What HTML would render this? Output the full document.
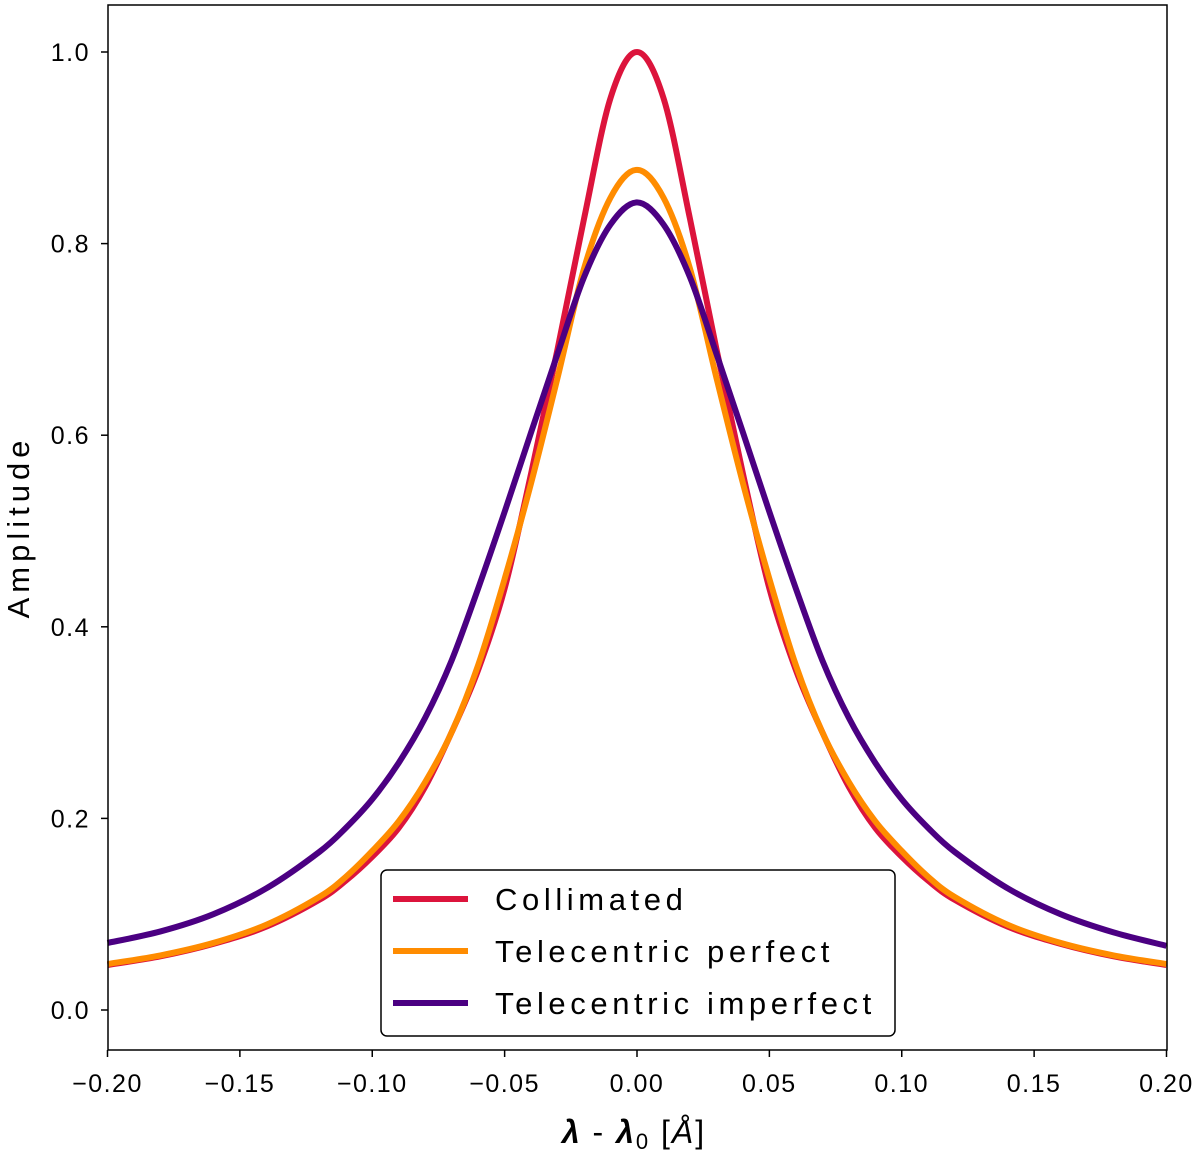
<!DOCTYPE html>
<html><head><meta charset="utf-8"><style>
body{margin:0;background:#fff}
svg{display:block;font-family:"Liberation Sans",DejaVu Sans,sans-serif}
</style></head><body>
<svg id="chart" width="1200" height="1151">
<rect x="108" y="5" width="1059" height="1045" fill="#fff"/>
<g id="curves"></g>
<rect x="108" y="5" width="1059" height="1045" fill="none" stroke="#000" stroke-width="1.5"/>
<g id="xt"></g>
<g id="yt"></g>
<text x="634" y="1143" text-anchor="middle" font-size="32" letter-spacing="2"><tspan font-style="italic" font-weight="bold">λ</tspan> - <tspan font-style="italic" font-weight="bold">λ</tspan><tspan font-size="22" dy="6">0</tspan><tspan dy="-6"> [</tspan><tspan font-style="italic">Å</tspan>]</text>
<text transform="translate(29,527) rotate(-90)" text-anchor="middle" font-size="31" letter-spacing="5">Amplitude</text>
<g>
<rect x="381" y="870" width="514" height="166" rx="6" fill="#fff" stroke="#000" stroke-width="1.5"/>
<g><line x1="393" x2="468" y1="899" y2="899" stroke="#dc143c" stroke-width="6"/><text x="495" y="910" font-size="31" letter-spacing="4.6">Collimated</text></g>
<g><line x1="393" x2="468" y1="951" y2="951" stroke="#ff8c00" stroke-width="6"/><text x="495" y="962" font-size="31" letter-spacing="4.6">Telecentric perfect</text></g>
<g><line x1="393" x2="468" y1="1003" y2="1003" stroke="#4b0082" stroke-width="6"/><text x="495" y="1014" font-size="31" letter-spacing="4.6">Telecentric imperfect</text></g>
</g>
</svg>
<script>
const xValues=[-0.2,-0.18,-0.16,-0.14,-0.12,-0.11,-0.1,-0.09,-0.08,-0.07,-0.06,-0.05,-0.04,-0.03,-0.02,-0.01,0,0.01,0.02,0.03,0.04,0.05,0.06,0.07,0.08,0.09,0.1,0.11,0.12,0.14,0.16,0.18,0.2];
const collimated=[0.047,0.056,0.069,0.087,0.115,0.135,0.16,0.19,0.233,0.29,0.355,0.44,0.56,0.69,0.826,0.952,1.0,0.952,0.826,0.69,0.56,0.44,0.355,0.29,0.233,0.19,0.16,0.135,0.115,0.087,0.069,0.056,0.047];
const telePerfect=[0.048,0.057,0.07,0.089,0.118,0.139,0.166,0.197,0.238,0.29,0.36,0.45,0.55,0.66,0.774,0.848,0.877,0.848,0.774,0.66,0.55,0.45,0.36,0.29,0.238,0.197,0.166,0.139,0.118,0.089,0.07,0.057,0.048];
const teleImperfect=[0.07,0.082,0.1,0.127,0.165,0.19,0.22,0.258,0.305,0.365,0.44,0.52,0.603,0.685,0.765,0.82,0.843,0.82,0.765,0.685,0.603,0.52,0.44,0.365,0.305,0.258,0.22,0.19,0.165,0.127,0.1,0.081,0.067];
const xTicks=[-0.2,-0.15,-0.1,-0.05,0,0.05,0.1,0.15,0.2];
const yTicks=[0,0.2,0.4,0.6,0.8,1.0];
const X=v=>637+v/0.2*529.5, Y=v=>1010-v*958;
const NS="http://www.w3.org/2000/svg";
function path(ys){const p=xValues.map((x,i)=>[X(x),Y(ys[i])]);let d="M"+p[0];
for(let i=0;i<p.length-1;i++){const a=p[i-1]||p[i],b=p[i],c=p[i+1],e=p[i+2]||c;
d+=" C"+(b[0]+(c[0]-a[0])/6)+","+(b[1]+(c[1]-a[1])/6)+" "+(c[0]-(e[0]-b[0])/6)+","+(c[1]-(e[1]-b[1])/6)+" "+c;}return d;}
const g=document.getElementById("curves");
[[collimated,"#dc143c","collimated-line"],[telePerfect,"#ff8c00","telecentric-perfect-line"],[teleImperfect,"#4b0082","telecentric-imperfect-line"]].forEach(s=>{
const el=document.createElementNS(NS,"path");el.setAttribute("d",path(s[0]));el.setAttribute("fill","none");el.setAttribute("stroke",s[1]);el.setAttribute("stroke-width","6");el.setAttribute("stroke-linejoin","round");


g.appendChild(el);});
const xt=document.getElementById("xt");
xTicks.forEach(t=>{const l=document.createElementNS(NS,"line");l.setAttribute("x1",X(t));l.setAttribute("x2",X(t));l.setAttribute("y1",1050);l.setAttribute("y2",1057);l.setAttribute("stroke","#000");l.setAttribute("stroke-width","1.5");


xt.appendChild(l);
const tx=document.createElementNS(NS,"text");tx.setAttribute("x",X(t));tx.setAttribute("y",1092);tx.setAttribute("text-anchor","middle");tx.setAttribute("font-size","25");tx.setAttribute("letter-spacing","1.5");
tx.textContent=(t<0?"\u2212":"")+Math.abs(t).toFixed(2);


xt.appendChild(tx);});
const yt=document.getElementById("yt");
yTicks.forEach(t=>{const l=document.createElementNS(NS,"line");l.setAttribute("x1",101);l.setAttribute("x2",108);l.setAttribute("y1",Y(t));l.setAttribute("y2",Y(t));l.setAttribute("stroke","#000");l.setAttribute("stroke-width","1.5");


yt.appendChild(l);
const tx=document.createElementNS(NS,"text");tx.setAttribute("x",90);tx.setAttribute("y",Y(t)+9);tx.setAttribute("text-anchor","end");tx.setAttribute("font-size","25");tx.setAttribute("letter-spacing","1.5");
tx.textContent=t.toFixed(1);


yt.appendChild(tx);});
</script>
</body></html>
